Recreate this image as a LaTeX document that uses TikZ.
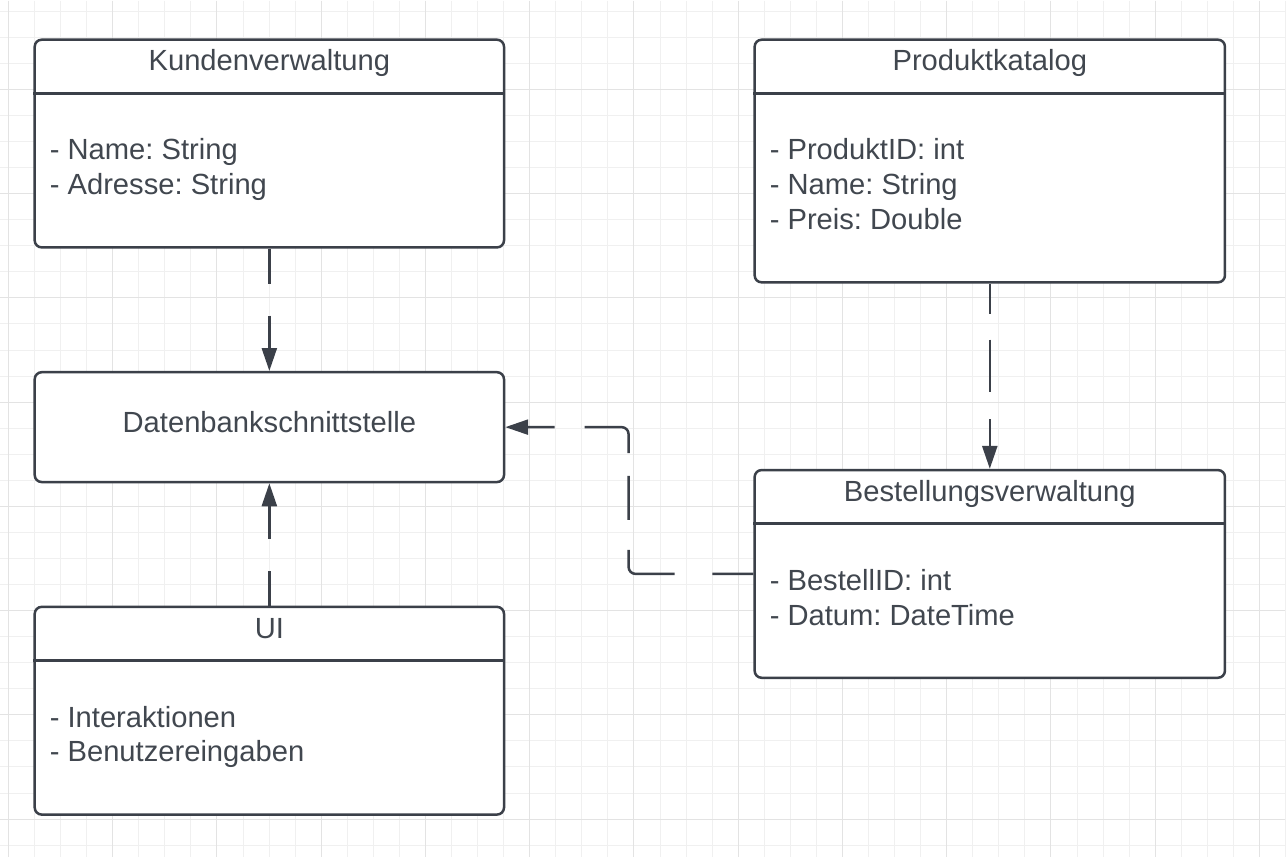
\documentclass[tikz,border=0pt]{standalone}
\usepackage{fontspec}
\setmainfont{Liberation Sans}
\usepackage{xcolor}
\usetikzlibrary{positioning,arrows.meta,calc}
\definecolor{umlline}{HTML}{3B4049}
\definecolor{umltext}{HTML}{41474F}
\definecolor{gridminor}{HTML}{F0F0F0}
\definecolor{gridmajor}{HTML}{E3E3E3}
\frenchspacing

\begin{document}
\begin{tikzpicture}[
  x=0.5pt, y=-0.5pt,
  font=\fontsize{14.6}{17.5}\selectfont,
  minorline/.style={draw=gridminor, line width=0.5pt},
  majorline/.style={draw=gridmajor, line width=0.5pt},
  cls/.style={draw=umlline, line width=1.25pt, rounded corners=3.5pt, fill=white, minimum width=235pt, inner sep=0pt, anchor=north west},
  clstitle/.style={text=umltext, text height=0.75em, text depth=0.25em, inner sep=0pt},
  attr/.style={text=umltext, align=left, anchor=north west, inner sep=0pt},
  divider/.style={draw=umlline, line width=1.25pt},
  dep/.style={draw=umlline, line width=1.25pt, dash pattern=on 17.5pt off 16pt, -{Triangle[length=11.5pt, width=7.5pt]}}
]
% background grid
\fill[white] (0,0) rectangle (1286,858);
\foreach \i in {0,...,49} \draw[minorline] ({8+26.1*\i},0) -- ({8+26.1*\i},858);
\foreach \j in {0,...,32} \draw[minorline] (0,{10.7+26.1*\j}) -- (1286,{10.7+26.1*\j});
\foreach \i in {0,...,12} \draw[majorline] ({8+104.4*\i},0) -- ({8+104.4*\i},858);
\foreach \j in {0,...,7} \draw[majorline] (0,{89+104.4*\j}) -- (1286,{89+104.4*\j});

% classes
\node[cls, minimum height=104pt] (kunden) at (33,38) {};
\node[cls, minimum height=121.5pt, minimum width=235.5pt] (produkt) at (754,38) {};
\node[cls, minimum height=55pt] (daten) at (33,371) {};
\node[cls, minimum height=104pt, minimum width=235.5pt] (bestell) at (754,469) {};
\node[cls, minimum height=104pt] (ui) at (33,606) {};

\foreach \c in {kunden,produkt,bestell,ui}
  \draw[divider] ($(\c.north west)+(0,55)$) -- ($(\c.north east)+(0,55)$);

\node[clstitle] (kundentitle) at ($(kunden.north)+(0,27.5)$) {Kundenverwaltung};
\node[clstitle] (produkttitle) at ($(produkt.north)+(0,27.5)$) {Produktkatalog};
\node[clstitle] (datentitle) at (daten.center) {Datenbankschnittstelle};
\node[clstitle] (bestelltitle) at ($(bestell.north)+(0,27.5)$) {Bestellungsverwaltung};
\node[clstitle] (uititle) at ($(ui.north)+(0,27.5)$) {UI};

\node[attr] (kundenattr) at ($(kunden.north west)+(16,100)$) {- Name: String\\- Adresse: String};
\node[attr] (produktattr) at ($(produkt.north west)+(16,100)$) {- ProduktID: int\\- Name: String\\- Preis: Double};
\node[attr] (bestellattr) at ($(bestell.north west)+(16,100)$) {- BestellID: int\\- Datum: DateTime};
\node[attr] (uiattr) at ($(ui.north west)+(16,100)$) {- Interaktionen\\- Benutzereingaben};

% dependencies
\draw[dep] (kunden.south) -- (daten.north);
\draw[dep] (ui.north) -- (daten.south);
\draw[dep, dash pattern=on 15pt off 13pt on 26.5pt off 13.5pt on 20pt] (produkt.south) -- (bestell.north);
\draw[dep, rounded corners=3.5pt, dash pattern=on 20.5pt off 19pt on 33.5pt off 15pt on 22pt off 11.5pt on 33.5pt off 15pt on 29pt]
  (bestell.west) -- ++(-125,0) |- (daten.east);
\end{tikzpicture}
\end{document}
